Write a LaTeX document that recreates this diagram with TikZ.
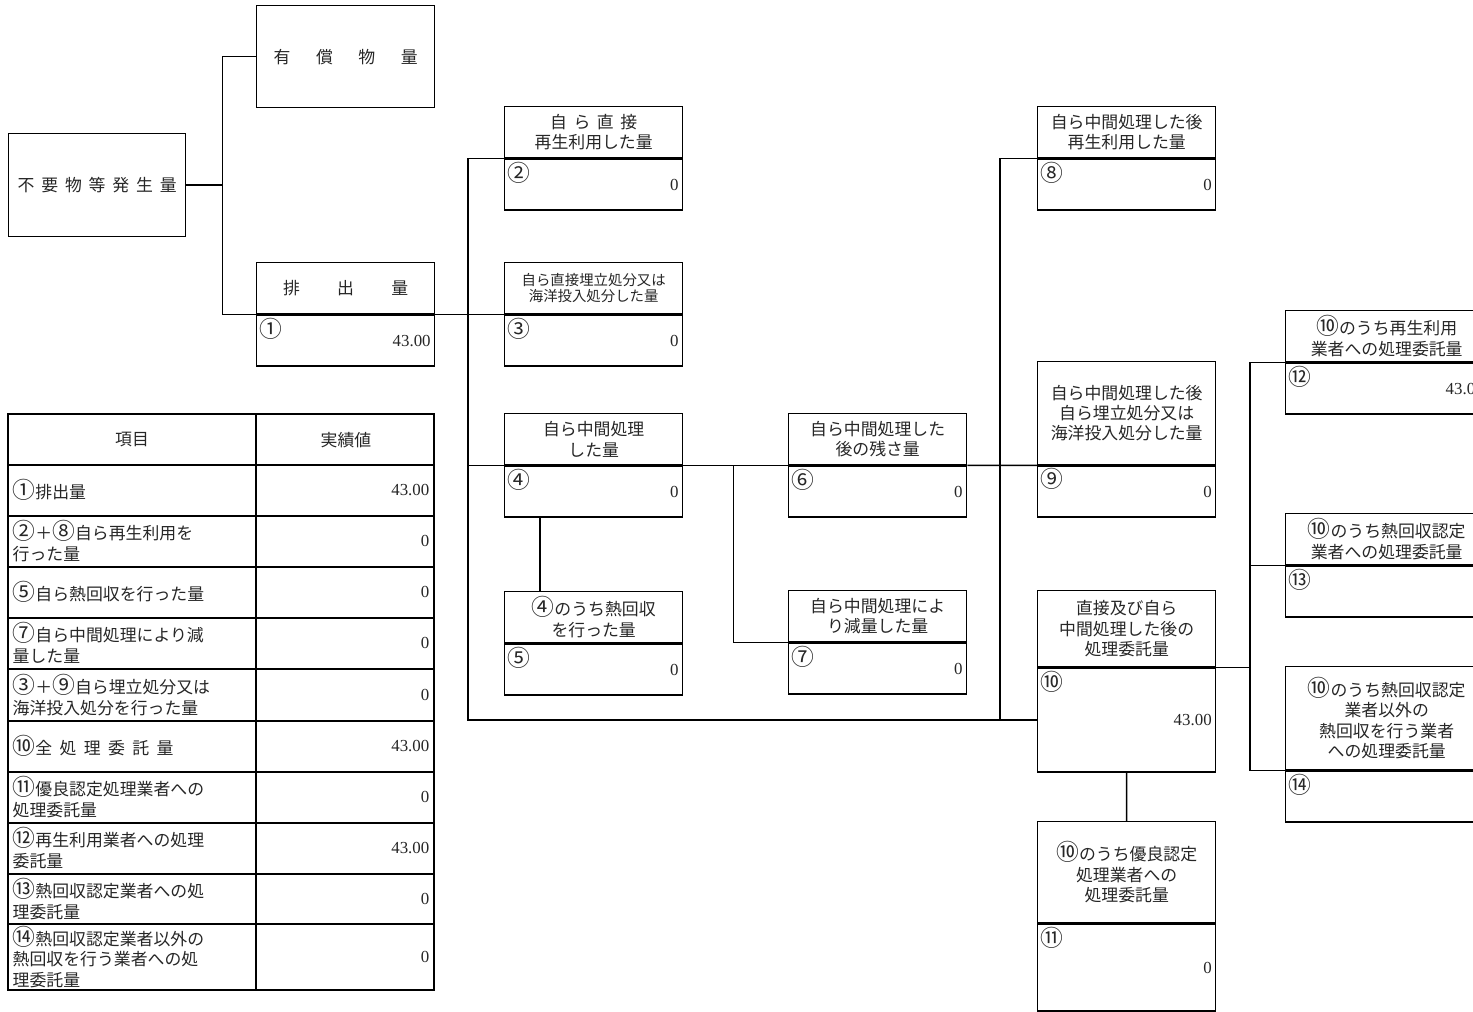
\documentclass[tikz,border=0pt]{standalone}
\usepackage{fontspec}
\setmainfont{Liberation Serif}
\newfontfamily\jp{Noto Sans CJK JP}
\newfontfamily\jpnum[Scale=1.35]{Noto Sans CJK JP}
\usetikzlibrary{calc}

\newcommand{\fs}{\fontsize{9.6pt}{11.6pt}\selectfont}
\newcommand{\fsmall}{\fontsize{8.2pt}{9pt}\selectfont}
\newcommand{\cn}[1]{{\jpnum #1}}

\begin{document}
\begin{tikzpicture}[x=0.02cm, y=-0.02cm, line width=0.8pt,
  head/.style={draw, anchor=north west, minimum width=3.56cm, minimum height=1.02cm, inner sep=1pt, align=center, font=\jp\fs, text=black!85},
  val/.style={draw, anchor=north west, minimum height=1.02cm, inner xsep=0.08cm, inner ysep=0pt, text width=3.4cm, align=right, font=\fs, text=black!85},
  wide/.style={minimum width=4.04cm, text width=3.88cm},
  num/.style={anchor=north west, inner sep=1.5pt, font=\jpnum\fs, text=black!85},
  item/.style={anchor=west, inner sep=0pt, align=left, font=\jp\fs, text=black!85},
  amount/.style={anchor=east, inner sep=0pt, font=\fs, text=black!85}]

 \useasboundingbox (0,0) rectangle (1473,1011);
 \clip (0,0) rectangle (1473,1011);

 \node[head, minimum width=3.54cm, minimum height=2.06cm] (src) at (8,133) {\makebox[3.18cm][s]{不\hfill 要\hfill 物\hfill 等\hfill 発\hfill 生\hfill 量}};
 \node[head, minimum height=2.04cm] (paid) at (256,5) {\makebox[2.88cm][s]{有\hfill 償\hfill 物\hfill 量}};

 \node[head] (b1) at (256,262) {\makebox[2.5cm][s]{排\hfill 出\hfill 量}};
 \node[val, label={[num]north west:①}] (v1) at (b1.south west) {43.00};

 \node[head] (b2) at (504,106) {\makebox[1.74cm][s]{自\hfill ら\hfill 直\hfill 接}\\再生利用した量};
 \node[val, label={[num]north west:②}] (v2) at (b2.south west) {0};

 \node[head, font=\jp\fsmall] (b3) at (504,262) {自ら直接埋立処分又は\\海洋投入処分した量};
 \node[val, label={[num]north west:③}] (v3) at (b3.south west) {0};

 \node[head] (b4) at (504,413) {自ら中間処理\\した量};
 \node[val, label={[num]north west:④}] (v4) at (b4.south west) {0};

 \node[head] (b5) at (504,591) {\cn{④}のうち熱回収\\を行った量};
 \node[val, label={[num]north west:⑤}] (v5) at (b5.south west) {0};

 \node[head] (b6) at (788,413) {自ら中間処理した\\後の残さ量};
 \node[val, label={[num]north west:⑥}] (v6) at (b6.south west) {0};

 \node[head] (b7) at (788,590) {自ら中間処理によ\\り減量した量};
 \node[val, label={[num]north west:⑦}] (v7) at (b7.south west) {0};

 \node[head] (b8) at (1037,106) {自ら中間処理した後\\再生利用した量};
 \node[val, label={[num]north west:⑧}] (v8) at (b8.south west) {0};

 \node[head, minimum height=2.06cm] (b9) at (1037,361) {自ら中間処理した後\\自ら埋立処分又は\\海洋投入処分した量};
 \node[val, label={[num]north west:⑨}] (v9) at (b9.south west) {0};

 \node[head, minimum height=1.52cm] (b10) at (1037,590) {直接及び自ら\\中間処理した後の\\処理委託量};
 \node[val, minimum height=2.08cm, label={[num]north west:⑩}] (v10) at (b10.south west) {43.00};

 \node[head, minimum height=2.02cm] (b11) at (1037,821) {\cn{⑩}のうち優良認定\\処理業者への\\処理委託量};
 \node[val, minimum height=1.74cm, label={[num]north west:⑪}] (v11) at (b11.south west) {0};

 \node[head, wide] (b12) at (1285,310) {\cn{⑩}のうち再生利用\\業者への処理委託量};
 \node[val, wide, label={[num]north west:⑫}] (v12) at (b12.south west) {43.00};

 \node[head, wide] (b13) at (1285,513) {\cn{⑩}のうち熱回収認定\\業者への処理委託量};
 \node[val, wide, label={[num]north west:⑬}] (v13) at (b13.south west) {0};

 \node[head, wide, minimum height=2.06cm] (b14) at (1285,666) {\cn{⑩}のうち熱回収認定\\業者以外の\\熱回収を行う業者\\への処理委託量};
 \node[val, wide, label={[num]north west:⑭}] (v14) at (b14.south west) {0};

 \draw (src.east) -- ++(36,0) coordinate (j1) |- (paid.west);
 \draw (j1) |- (b1.south west);
 \draw (b1.south east) -- (b3.south west);

 \draw (b2.south west) -- ++(-36,0) |- (v10.west);
 \draw (b4.south west) -- ++(-36,0);
 \draw (b4.south east) -- (b6.south west);
 \draw (b6.south east) -- (b9.south west);
 \draw ($(b4.south east)!.48!(b6.south west)$) |- (b7.south west);
 \draw ([xshift=0.72cm]v4.south west) -- ([xshift=0.72cm]b5.north west);

 \draw (b8.south west) -- ++(-37,0) |- (v10.west);
 \draw (v10.south) -- (b11.north);

 \draw (b10.south east) -- ++(35,0);
 \draw (b12.south west) -- ++(-35,0) |- (b14.south west);
 \draw (b13.south west) -- ++(-35,0);

 \draw (8,414) rectangle (434,990);
 \draw (256,414) -- (256,990);
 \foreach \y in {465,516,567,618,669,721,772,823,874,924}
     \draw (8,\y) -- (434,\y);

 \node[font=\jp\fs, text=black!85] (h1) at (132,440) {項目};
 \node[font=\jp\fs, text=black!85] (h2) at (346,440) {実績値};

 \foreach \y/\t/\v [count=\i] in {490/{\cn{①}排出量}/43.00, 541/{\cn{②}＋\cn{⑧}自ら再生利用を\\行った量}/0,
     592/{\cn{⑤}自ら熱回収を行った量}/0, 643/{\cn{⑦}自ら中間処理により減\\量した量}/0,
     695/{\cn{③}＋\cn{⑨}自ら埋立処分又は\\海洋投入処分を行った量}/0,
     746/{\cn{⑩}\makebox[2.76cm][s]{全\hfill 処\hfill 理\hfill 委\hfill 託\hfill 量}}/43.00,
     797/{\cn{⑪}優良認定処理業者への\\処理委託量}/0, 848/{\cn{⑫}再生利用業者への処理\\委託量}/43.00,
     899/{\cn{⑬}熱回収認定業者への処\\理委託量}/0, 957/{\cn{⑭}熱回収認定業者以外の\\熱回収を行う業者への処\\理委託量}/0}
 {
     \node[item] (r\i) at (12,\y) {\t};
     \node[amount] (n\i) at (430,\y) {\v};
 }

\end{tikzpicture}
\end{document}
